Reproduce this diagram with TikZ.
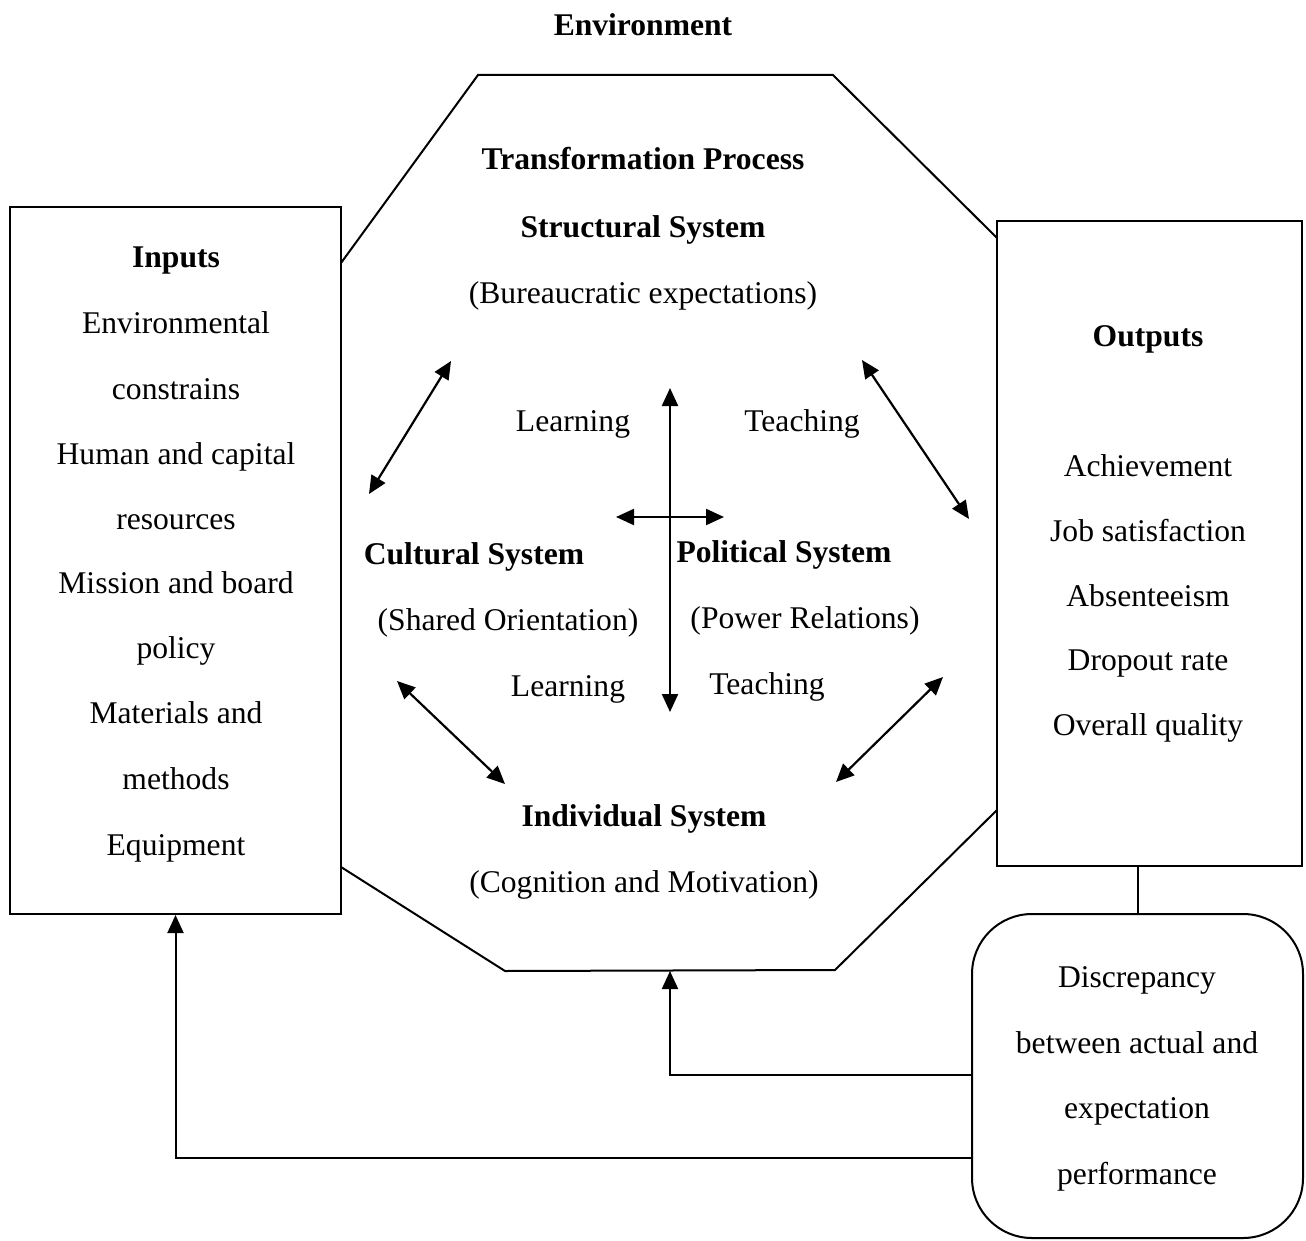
\documentclass[tikz,border=0pt]{standalone}
\usepackage{fontspec}
\setmainfont{Liberation Serif}
\usetikzlibrary{arrows.meta}
\begin{document}
\begin{tikzpicture}[x=0.5pt,y=-0.5pt,
  txt/.style={anchor=base, inner sep=0pt, font=\fontsize{15.8}{19}\selectfont},
  ttl/.style={anchor=base, inner sep=0pt, font=\fontsize{15.8}{19}\selectfont\bfseries},
  frame/.style={draw, line width=1pt, inner sep=0pt},
  edge/.style={line width=1pt},
  headtip/.tip={Triangle[length=9pt,width=8pt]},
  dbl/.style={line width=1.1pt, headtip-headtip},
  fb/.style={line width=1pt, -headtip}]
\fill[white] (0,0) rectangle (1306,1241);
\useasboundingbox (0,0) rectangle (1306,1241);

% boxes
\node[frame, minimum width=165.5pt, minimum height=353.5pt] (inputs) at (175.5,560.5) {};
\node[frame, minimum width=152.5pt, minimum height=322.5pt] (outputs) at (1149.5,543.5) {};
\node[frame, rounded corners=30pt, minimum width=165.5pt, minimum height=162pt] (disc) at (1137.5,1076) {};

% octagon of the transformation process, visible between the boxes
\coordinate (oA) at (341,263);
\coordinate (oB) at (478,75);
\coordinate (oC) at (833,75);
\coordinate (oD) at (997,238);
\coordinate (oE) at (997,810);
\coordinate (oF) at (835,970);
\coordinate (oG) at (505,971);
\coordinate (oH) at (341,867);
\coordinate (obot) at (670,971);
\draw[edge, line join=miter] (oA) -- (oB) -- (oC) -- (oD);
\draw[edge, line join=miter] (oE) -- (oF) -- (oG) -- (oH);

% title
\node[ttl] (env) at (643,36) {Environment};

% inputs
\node[ttl] (inT) at (176,268) {Inputs};
\node[txt] (in1) at (176,333) {Environmental};
\node[txt] (in2) at (176,399) {constrains};
\node[txt] (in3) at (176,464) {Human and capital};
\node[txt] (in4) at (176,529) {resources};
\node[txt] (in5) at (176,593) {Mission and board};
\node[txt] (in6) at (176,658) {policy};
\node[txt] (in7) at (176,723) {Materials and};
\node[txt] (in8) at (176,789) {methods};
\node[txt] (in9) at (176,855) {Equipment};

% outputs
\node[ttl] (outT) at (1148,346) {Outputs};
\node[txt] (out1) at (1148,476) {Achievement};
\node[txt] (out2) at (1148,541) {Job satisfaction};
\node[txt] (out3) at (1148,606) {Absenteeism};
\node[txt] (out4) at (1148,670) {Dropout rate};
\node[txt] (out5) at (1148,735) {Overall quality};

% discrepancy
\node[txt] (d1) at (1137,987) {Discrepancy};
\node[txt] (d2) at (1137,1053) {between actual and};
\node[txt] (d3) at (1137,1118) {expectation};
\node[txt] (d4) at (1137,1184) {performance};

% transformation process
\node[ttl] (tp) at (643,170) {Transformation Process};
\node[ttl] (ss) at (643,238) {Structural System};
\node[txt] (ssd) at (643,303) {(Bureaucratic expectations)};
\node[txt] (lrn1) at (573,431) {Learning};
\node[txt] (tch1) at (802,431) {Teaching};
\node[ttl] (cs) at (474,564) {Cultural System};
\node[ttl] (ps) at (784,562) {Political System};
\node[txt] (csd) at (508,630) {(Shared Orientation)};
\node[txt] (psd) at (805,628) {(Power Relations)};
\node[txt] (lrn2) at (568,696) {Learning};
\node[txt] (tch2) at (767,694) {Teaching};
\node[ttl] (is) at (644,826) {Individual System};
\node[txt] (isd) at (644,892) {(Cognition and Motivation)};

% two-way links between the subsystems
\coordinate (vT) at (670,388);
\coordinate (vB) at (670,712);
\coordinate (hL) at (616,517);
\coordinate (hR) at (724,517);
\coordinate (ulA) at (451,361);
\coordinate (ulB) at (369,494);
\coordinate (urA) at (862,360);
\coordinate (urB) at (969,519);
\coordinate (llA) at (397,681);
\coordinate (llB) at (505,784);
\coordinate (lrA) at (943,677);
\coordinate (lrB) at (836,782);
\draw[dbl] (vT) -- (vB);
\draw[dbl] (hL) -- (hR);
\draw[dbl] (ulA) -- (ulB);
\draw[dbl] (urA) -- (urB);
\draw[dbl] (llA) -- (llB);
\draw[dbl] (lrA) -- (lrB);

% feedback
\draw[edge] (disc.north) -- (disc.north |- outputs.south);
\draw[fb] (disc.west |- 0,1075) -| (obot);
\draw[fb] (disc.west |- 0,1158) -| (inputs.south);
\end{tikzpicture}
\end{document}
